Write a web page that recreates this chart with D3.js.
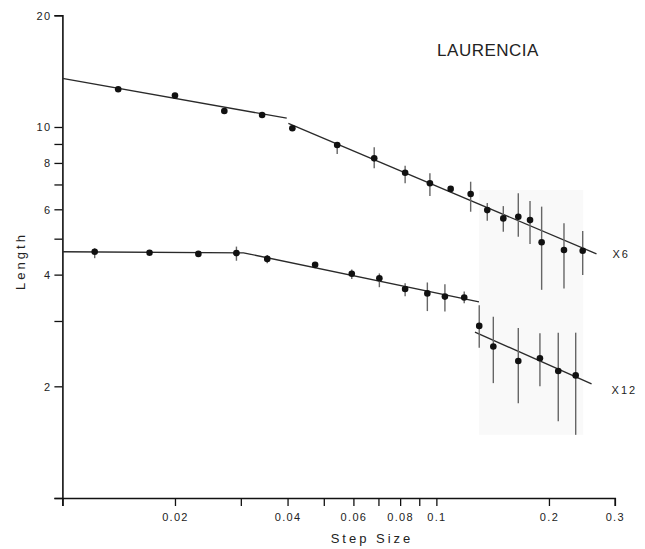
<!DOCTYPE html>
<html>
<head>
<meta charset="utf-8">
<script src="https://cdn.jsdelivr.net/npm/d3@7"></script>
<style>
  body { margin: 0; background: #fff; }
  text { font-family: "Liberation Sans", Arial, sans-serif; fill: #222; }
</style>
</head>
<body>
<svg id="chart" width="645" height="549"></svg>
<script>
// upper curve (x6)
var stepUpper = [0.0141, 0.0200, 0.0271, 0.0342, 0.0412, 0.0543, 0.0682, 0.0825, 0.0961, 0.1092, 0.1235, 0.1368, 0.1510, 0.1656, 0.1780, 0.1912, 0.2194, 0.2462];
var lenUpper  = [12.64, 12.15, 11.04, 10.77, 9.92, 8.94, 8.23, 7.53, 7.05, 6.81, 6.60, 5.97, 5.67, 5.73, 5.61, 4.89, 4.66, 4.64];
var hiUpper   = [null, null, null, null, null, 9.07, 8.82, 7.86, 7.50, null, 7.12, 6.24, 6.12, 6.63, 6.32, 6.10, 5.50, 5.24];
var loUpper   = [null, null, null, null, null, 8.46, 7.74, 7.05, 6.52, null, 5.91, 5.59, 5.22, 5.06, 4.84, 3.64, 3.67, 3.99];

// lower curve (x12)
var stepLower = [0.0122, 0.0171, 0.0231, 0.0292, 0.0353, 0.0474, 0.0594, 0.0704, 0.0825, 0.0946, 0.1054, 0.1187, 0.1302, 0.1420, 0.1656, 0.1892, 0.2118, 0.2358];
var lenLower  = [4.61, 4.58, 4.55, 4.57, 4.41, 4.25, 4.02, 3.91, 3.66, 3.56, 3.49, 3.47, 2.91, 2.56, 2.34, 2.38, 2.20, 2.14];
var hiLower   = [4.71, null, null, 4.76, 4.52, null, 4.13, 4.03, 3.79, 3.81, 3.77, 3.60, 3.31, 3.08, 2.87, 2.78, 2.79, 2.79];
var loLower   = [4.43, null, null, 4.36, 4.29, null, 3.89, 3.70, 3.50, 3.19, 3.18, 3.35, 2.54, 2.04, 1.80, 2.00, 1.61, 1.48];

// fitted line segments
var fitUpperAStep = [0.01, 0.0398],  fitUpperALen = [13.53, 10.56];
var fitUpperBStep = [0.0402, 0.268], fitUpperBLen = [10.23, 4.55];
var fitLowerAStep = [0.01, 0.0305, 0.130], fitLowerALen = [4.61, 4.58, 3.38];
var fitLowerBStep = [0.1268, 0.260], fitLowerBLen = [2.80, 2.03];

// axis ticks
var xTicks = [0.01, 0.02, 0.03, 0.04, 0.05, 0.06, 0.07, 0.08, 0.09, 0.1, 0.2, 0.3];
var xTickLabels = ["", "0.02", "", "0.04", "", "0.06", "", "0.08", "", "0.1", "0.2", "0.3"];
var yTicks = [1, 2, 3, 4, 5, 6, 7, 8, 9, 10, 20];
var yTickLabels = ["", "2", "", "4", "", "6", "", "8", "", "10", "20"];

// shaded patch behind the large-step points
var shadeStep = [0.130, 0.247], shadeLen = [1.48, 6.76];

var svg = d3.select("#chart");

var x = d3.scaleLog().domain([0.01, 0.3]).range([62.4, 614.8]);
var y = d3.scaleLog().domain([1, 20]).range([498, 15.3]);

svg.append("rect")
  .attr("x", x(shadeStep[0]))
  .attr("y", y(shadeLen[1]))
  .attr("width", x(shadeStep[1]) - x(shadeStep[0]))
  .attr("height", y(shadeLen[0]) - y(shadeLen[1]))
  .attr("fill", "#f9f9f9");

// axes
var xAxis = svg.append("g")
  .attr("transform", "translate(0," + y(1) + ")")
  .call(d3.axisBottom(x)
    .tickValues(xTicks)
    .tickFormat(function(d, i) { return xTickLabels[i]; })
    .tickSizeOuter(0)
    .tickSize(8)
    .tickPadding(7));

var yAxis = svg.append("g")
  .attr("transform", "translate(" + x(0.01) + ",0)")
  .call(d3.axisLeft(y)
    .tickValues(yTicks)
    .tickFormat(function(d, i) { return yTickLabels[i]; })
    .tickSizeOuter(0)
    .tickSize(8)
    .tickPadding(3));

svg.selectAll(".domain").attr("stroke", "#111").attr("stroke-width", 1.6);
svg.selectAll(".tick line").attr("stroke", "#111").attr("stroke-width", 1.3);
svg.selectAll(".tick text")
  .attr("fill", "#222")
  .style("font-family", "'Liberation Sans', Arial, sans-serif")
  .style("font-size", "11px")
  .style("letter-spacing", "1.3px");
yAxis.selectAll(".tick text").attr("dy", "0.36em");

// fit lines
var line = d3.line()
  .x(function(d) { return x(d[0]); })
  .y(function(d) { return y(d[1]); });

[[fitUpperAStep, fitUpperALen], [fitUpperBStep, fitUpperBLen],
 [fitLowerAStep, fitLowerALen], [fitLowerBStep, fitLowerBLen]].forEach(function(f) {
  svg.append("path")
    .datum(d3.zip(f[0], f[1]))
    .attr("d", line)
    .attr("fill", "none")
    .attr("stroke", "#2a2a2a")
    .attr("stroke-width", 1.3);
});

function addSeries(steps, lens, lo, hi) {
  var data = steps.map(function(s, i) {
    return { s: s, l: lens[i], lo: lo[i], hi: hi[i] };
  });

  svg.append("g")
    .selectAll("line")
    .data(data.filter(function(d) { return d.lo != null; }))
    .enter().append("line")
      .attr("x1", function(d) { return x(d.s); })
      .attr("x2", function(d) { return x(d.s); })
      .attr("y1", function(d) { return y(d.hi); })
      .attr("y2", function(d) { return y(d.lo); })
      .attr("stroke", "#666")
      .attr("stroke-width", 1.4);

  svg.append("g")
    .selectAll("circle")
    .data(data)
    .enter().append("circle")
      .attr("cx", function(d) { return x(d.s); })
      .attr("cy", function(d) { return y(d.l); })
      .attr("r", 3.3)
      .attr("fill", "#111");
}

addSeries(stepUpper, lenUpper, loUpper, hiUpper);
addSeries(stepLower, lenLower, loLower, hiLower);

// labels
svg.append("text")
  .attr("x", x(fitUpperBStep[1]) + 16)
  .attr("y", y(fitUpperBLen[1]) + 4)
  .style("font-size", "11px")
  .style("letter-spacing", "2px")
  .text("X6");

svg.append("text")
  .attr("x", x(fitLowerBStep[1]) + 20)
  .attr("y", y(fitLowerBLen[1]) + 10)
  .style("font-size", "11px")
  .style("letter-spacing", "2px")
  .text("X12");

svg.append("text")
  .attr("x", 488)
  .attr("y", 56)
  .attr("text-anchor", "middle")
  .style("font-size", "17px")
  .style("letter-spacing", "0.5px")
  .text("LAURENCIA");

svg.append("text")
  .attr("x", 372)
  .attr("y", 543)
  .attr("text-anchor", "middle")
  .style("font-size", "13px")
  .style("letter-spacing", "3px")
  .text("Step Size");

svg.append("text")
  .attr("transform", "translate(25,261) rotate(-90)")
  .attr("text-anchor", "middle")
  .style("font-size", "13px")
  .style("letter-spacing", "3px")
  .text("Length");
</script>
</body>
</html>
